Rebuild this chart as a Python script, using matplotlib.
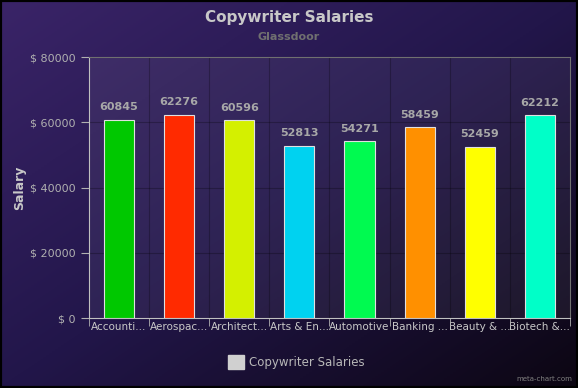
import numpy as np
import matplotlib.pyplot as plt
from matplotlib.colors import LinearSegmentedColormap

categories = ['Accounti...', 'Aerospac...', 'Architect...', 'Arts & En...',
              'Automotive', 'Banking ...', 'Beauty & ...', 'Biotech &...']
salaries = [60845, 62276, 60596, 52813, 54271, 58459, 52459, 62212]
colors = ['#00c800', '#ff2a00', '#d4f000', '#00d2f0',
          '#00fa50', '#ff9000', '#ffff00', '#00ffc8']
yticks = [0, 20000, 40000, 60000, 80000]

fig = plt.figure(figsize=(5.78, 3.88), dpi=100)

# gradient background, light purple top-left to near black bottom-right
bg = fig.add_axes([0, 0, 1, 1])
xx, yy = np.meshgrid(np.linspace(0, 1, 200), np.linspace(0, 1, 200))
t = (xx + yy) / 2
cmap = LinearSegmentedColormap.from_list('bg', ['#3a2468', '#22164a', '#0c0612'])
bg.imshow(t, cmap=cmap, aspect='auto', extent=[0, 1, 0, 1], origin='upper')
bg.set_xlim(0, 1)
bg.set_ylim(0, 1)
bg.axis('off')
bg.add_patch(plt.Rectangle((0, 0), 1, 1, fill=False, edgecolor='black', lw=3,
                           transform=bg.transAxes, clip_on=False))

ax = fig.add_axes([0.154, 0.180, 0.832, 0.673])
ax.set_facecolor((1, 1, 1, 0.06))
x = np.arange(len(categories))
ax.bar(x, salaries, width=0.5, color=colors, edgecolor='#e0e0e0', linewidth=0.8, zorder=3)
for xi, v in zip(x, salaries):
    ax.text(xi, v + 2300, str(v), ha='center', va='bottom', color='#a8a8a8',
            fontsize=8, fontweight='bold', zorder=4)

ax.set_xlim(-0.5, len(categories) - 0.5)
ax.set_ylim(0, 80000)
ax.set_yticks(yticks)
ax.set_yticklabels(['$ %d' % v for v in yticks], color='#b0b0b0', fontsize=8)
ax.set_xticks(x)
ax.set_xticklabels(categories, color='#c8c8c8', fontsize=7.5)
ax.tick_params(axis='x', length=0, pad=3)
ax.set_xticks(np.arange(len(categories) + 1) - 0.5, minor=True)
ax.tick_params(axis='x', which='minor', length=6, color='#b0b0b0')
ax.tick_params(axis='y', length=6, color='#b0b0b0')
ax.grid(axis='y', color='#000000', alpha=0.25, lw=0.8, zorder=0)
ax.grid(axis='x', which='minor', color='#000000', alpha=0.25, lw=0.8, zorder=0)
for s in ['top', 'right']:
    ax.spines[s].set_color('#707070')
for s in ['left', 'bottom']:
    ax.spines[s].set_color('#c0c0c0')

ax.set_ylabel('Salary', color='#c8c8c8', fontsize=9, fontweight='bold', labelpad=3)

fig.text(0.5, 0.955, 'Copywriter Salaries', ha='center', va='center',
         color='#c8c8c8', fontsize=11, fontweight='bold')
fig.text(0.5, 0.905, 'Glassdoor', ha='center', va='center',
         color='#707070', fontsize=8, fontweight='bold')

# legend
fig.patches.append(plt.Rectangle((0.395, 0.048), 0.027, 0.036, color='#d0d0d0',
                                 transform=fig.transFigure))
fig.text(0.43, 0.066, 'Copywriter Salaries', ha='left', va='center',
         color='#b8b8b8', fontsize=8.5)
fig.text(0.99, 0.015, 'meta-chart.com', ha='right', va='bottom',
         color='#808080', fontsize=5)

fig.savefig('out.png', dpi=100)
